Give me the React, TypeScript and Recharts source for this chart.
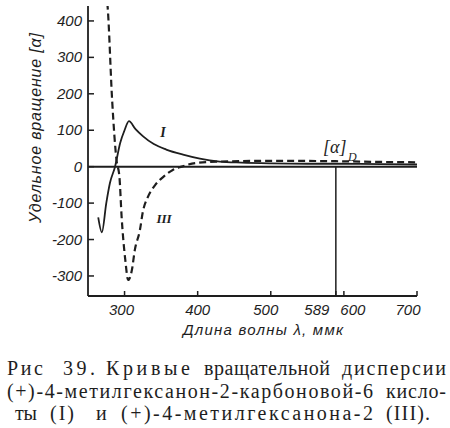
import React from 'react';
import { LineChart, Line, XAxis, YAxis, ReferenceLine } from 'recharts';

// curve I: (+)-4-methylhexanone-2-carboxylic-6 acid
const lambdaI = [264, 269, 275, 280, 287, 294, 300, 306, 315, 325, 340, 357, 380, 403, 430, 460, 500, 550, 589, 650, 700];
const rotI = [-139, -180, -100, -45, 0, 65, 100, 125, 103, 84, 62, 47, 33, 22, 14, 11, 9, 8, 8, 7, 6];

// curve III: (+)-4-methylhexanone-2
const lambdaIII = [275, 277, 283, 289, 293, 296, 301, 305, 310, 314, 321, 325, 332, 342, 353, 366, 378, 397, 430, 500, 589, 650, 700];
const rotIII = [480, 435, 183, 18, -28, -138, -256, -311, -284, -229, -174, -124, -83, -50, -28, -9, 0, 10, 14, 16, 15, 13, 12];

const xTicks = [300, 400, 500, 589, 600, 700];
const yTicks = [-300, -200, -100, 0, 100, 200, 300, 400];

const dataI = lambdaI.map((l, i) => ({ l, v: rotI[i] }));
const dataIII = lambdaIII.map((l, i) => ({ l, v: rotIII[i] }));

const INK = '#1e1e1e';

// nudges so 589 and 600 don't collide, like in the print
const xLabelShift: Record<number, number> = { 300: -3, 400: 0, 500: -5, 589: -19, 600: 9, 700: -9 };

const YTick = (props: any) => {
    const { x, y, payload } = props;
    return (
        <g>
            <line x1={x} x2={x + 6} y1={y} y2={y} stroke={INK} strokeWidth={1.5} />
            <text x={x - 6} y={y} dy={5} textAnchor="end" fontFamily="Liberation Sans" fontStyle="italic" fontSize={15} fill={INK}>
                {payload.value}
            </text>
        </g>
    );
};

const XTick = (props: any) => {
    const { x, y, payload } = props;
    return (
        <g>
            <line x1={x} x2={x} y1={y} y2={y - 5} stroke={INK} strokeWidth={1.5} />
            <text x={x + (xLabelShift[payload.value] || 0)} y={y + 19} textAnchor="middle" fontFamily="Liberation Sans" fontStyle="italic" fontSize={15} fill={INK}>
                {payload.value}
            </text>
        </g>
    );
};

// [text, left, width] for each word of the caption
const captionLines: [string, number, number][][] = [
    [['Рис', 7, 36], ['39.', 63, 32], ['Кривые', 106, 84], ['вращательной', 204, 126], ['дисперсии', 342, 104]],
    [['(+)-4-метилгексанон-2-карбоновой-6', 7, 366], ['кисло-', 386, 60]],
    [['ты', 15, 22], ['(I)', 50, 24], ['и', 96, 12], ['(+)-4-метилгексанона-2', 121, 252], ['(III).', 386, 44]],
];
const captionBase = [375, 398, 420];

export default function App() {
    return (
        <div style={{ position: 'absolute', left: 0, top: 0, width: 450, height: 428, background: '#fff' }}>
            <LineChart width={450} height={340} margin={{ top: 6, right: 33, bottom: 14, left: 38 }}>
                <XAxis
                    dataKey="l"
                    type="number"
                    domain={[250, 700]}
                    ticks={xTicks}
                    interval={0}
                    tickSize={0}
                    tickMargin={0}
                    height={30}
                    stroke={INK}
                    strokeWidth={1.8}
                    tick={<XTick />}
                    allowDuplicatedCategory={false}
                />
                <YAxis
                    dataKey="v"
                    type="number"
                    domain={[-355, 441]}
                    allowDataOverflow
                    ticks={yTicks}
                    interval={0}
                    tickSize={0}
                    tickMargin={0}
                    width={50}
                    stroke={INK}
                    strokeWidth={1.8}
                    tick={<YTick />}
                />
                <ReferenceLine y={0} stroke={INK} strokeWidth={2} />
                <ReferenceLine segment={[{ x: 589, y: 0 }, { x: 589, y: -355 }]} stroke={INK} strokeWidth={1.5} />
                <Line data={dataI} dataKey="v" type="monotone" stroke={INK} strokeWidth={1.8} dot={false} isAnimationActive={false} />
                <Line data={dataIII} dataKey="v" type="monotone" stroke={INK} strokeWidth={2.2} strokeDasharray="7 4" dot={false} isAnimationActive={false} />
            </LineChart>

            <svg width={450} height={428} style={{ position: 'absolute', left: 0, top: 0, pointerEvents: 'none' }}>
                {/* axis titles */}
                <text transform="rotate(-90)" x={-128} y={41} textAnchor="middle" textLength={190} lengthAdjust="spacing"
                    fontFamily="Liberation Sans" fontStyle="italic" fontSize={16} fill={INK}>
                    Удельное вращение [α]
                </text>
                <text x={183} y={335} textLength={160} lengthAdjust="spacing"
                    fontFamily="Liberation Sans" fontStyle="italic" fontSize={15} fill={INK}>
                    Длина волны λ, ммк
                </text>

                {/* curve labels */}
                <text x={163} y={137} textAnchor="middle" fontFamily="Liberation Serif" fontStyle="italic" fontWeight="bold" fontSize={14} fill={INK}>I</text>
                <text x={164} y={223} textAnchor="middle" fontFamily="Liberation Serif" fontStyle="italic" fontWeight="bold" fontSize={13} fill={INK}>III</text>
                <text x={323} y={153} fontFamily="Liberation Serif" fontStyle="italic" fontSize={18} fill={INK}>[α]</text>
                <text x={348} y={161} fontFamily="Liberation Serif" fontStyle="italic" fontSize={12} fill={INK}>D</text>

                {/* caption */}
                {captionLines.map((line, li) =>
                    line.map(([w, x, len], wi) => (
                        <text key={`${li}-${wi}`} x={x} y={captionBase[li]} textLength={len} lengthAdjust="spacing"
                            fontFamily="Liberation Serif" fontSize={20} fill={INK}>
                            {w}
                        </text>
                    ))
                )}
            </svg>
        </div>
    );
}
